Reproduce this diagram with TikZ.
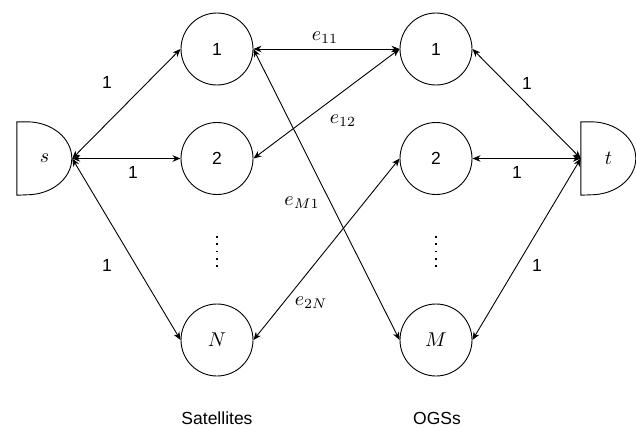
\documentclass[tikz,border=0pt]{standalone}
\usepackage{fontspec}
\setmainfont{Liberation Sans}
\usetikzlibrary{arrows.meta,calc}
% math symbols set at 10pt and enlarged uniformly
\newcommand{\bigmath}[1]{{\normalsize\scalebox{2}{$#1$}}}
\begin{document}
\begin{tikzpicture}[x=1pt,y=-1pt,
  every node/.style={font=\fontsize{17.5}{20}\selectfont},
  vertex/.style={circle,draw,line width=0.9pt,minimum size=72pt,inner sep=0pt},
  term/.style={minimum width=55pt,minimum height=73pt,inner sep=0pt},
  tip/.tip={Stealth[length=8pt,width=6.5pt,inset=2.5pt]},
  link/.style={line width=0.9pt,tip-tip},
  outline/.style={line width=0.9pt}]
\useasboundingbox (0,0) rectangle (636,428);

% source and sink (straight left side, rounded right side)
\node[term] (s) at (44.5,158.5) {\bigmath{s}};
\node[term] (t) at (608.5,158.5) {\bigmath{t}};
\foreach \n in {s,t}
  \draw[outline] (\n.north west) -- ($(\n.north west)+(10,0)$)
    arc[start angle=90,end angle=-90,x radius=45pt,y radius=36.5pt]
    -- (\n.south west) -- cycle;

% satellites
\node[vertex] (a1) at (217,49) {1};
\node[vertex] (a2) at (217,158.5) {2};
\node[vertex] (aN) at (217,340) {\bigmath{N}};
% ground stations
\node[vertex] (b1) at (436,49) {1};
\node[vertex] (b2) at (436,158.5) {2};
\node[vertex] (bM) at (436,340) {\bigmath{M}};

% vertical ellipses
\foreach \x in {217,436}
  \foreach \y in {237,244.25,251.5,258.75,266}
    \fill (\x-0.8,\y-0.8) rectangle (\x+0.8,\y+0.8);

% links
\draw[link] (s.east) -- (a1.west);
\draw[link] (s.east) -- (a2.west);
\draw[link] (s.east) -- (aN.west);
\draw[link] (a1.east) -- (b1.west);
\draw[link] (a2.east) -- (b1.west);
\draw[link] (a1.east) -- (bM.west);
\draw[link] (aN.east) -- (b2.west);
\draw[link] (b1.east) -- (t.west);
\draw[link] (b2.east) -- (t.west);
\draw[link] (bM.east) -- (t.west);

% capacities
\node (c1) at (107,82) {1};
\node (c2) at (133,172) {1};
\node (c3) at (107,265) {1};
\node (c4) at (527,83) {1};
\node (c5) at (517,172) {1};
\node (c6) at (537,265) {1};
\node (e11) at (325,38) {\bigmath{e_{11}}};
\node (e12) at (343,121) {\bigmath{e_{12}}};
\node (eM1) at (302,203) {\bigmath{e_{M1}}};
\node (e2N) at (311,303) {\bigmath{e_{2N}}};

% column captions
\node (cap1) at (217,418) {Satellites};
\node (cap2) at (437,418) {OGSs};
\end{tikzpicture}
\end{document}
